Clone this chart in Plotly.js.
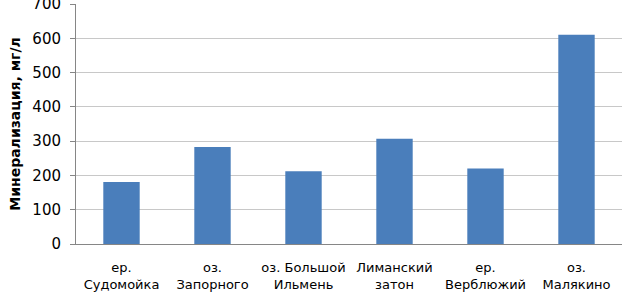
<!DOCTYPE html>
<html><head><meta charset="utf-8">
<script src="https://cdn.plot.ly/plotly-3.0.1.min.js"></script>
<style>html,body{margin:0;padding:0;background:#fff}#c{width:622px;height:294px}</style>
</head><body><div id="c"></div>
<script>
const categories = ["ер.<br>Судомойка", "оз.<br>Запорного", "оз. Большой<br>Ильмень", "Лиманский<br>затон", "ер.<br>Верблюжий", "оз.<br>Малякино"];
const values = [181, 283, 212, 307, 220, 610];
const yTicks = [0, 100, 200, 300, 400, 500, 600, 700];

Plotly.newPlot('c', [{
  type: 'bar',
  x: categories,
  y: values,
  marker: {color: '#4a7ebb', line: {width: 0}},
  hoverinfo: 'skip'
}], {
  width: 622, height: 294,
  margin: {l: 76, r: 0, t: 4, b: 50},
  paper_bgcolor: '#fff', plot_bgcolor: '#fff',
  bargap: 0.6,
  showlegend: false,
  font: {family: 'DejaVu Sans, sans-serif', size: 14, color: '#000'},
  xaxis: {
    type: 'category',
    showline: true, linecolor: '#868686', linewidth: 1,
    ticks: '', showgrid: false,
    tickangle: 0,
    tickfont: {size: 13, color: '#000'},
    ticklabelstandoff: 11
  },
  yaxis: {
    range: [0, 700],
    tickvals: yTicks,
    ticktext: yTicks.map(String),
    showline: true, linecolor: '#868686', linewidth: 1,
    ticks: 'outside', ticklen: 5, tickcolor: '#868686',
    showgrid: true, gridcolor: '#c8c8c8', gridwidth: 1,
    zeroline: false,
    ticklabeloverflow: 'allow',
    tickfont: {size: 15, color: '#000'},
    ticklabelstandoff: 6,
    title: {text: 'Минерализация, мг/л', font: {size: 14, color: '#000', weight: 'bold'}, standoff: 8}
  }
}, {displayModeBar: false, staticPlot: true});
</script></body></html>
